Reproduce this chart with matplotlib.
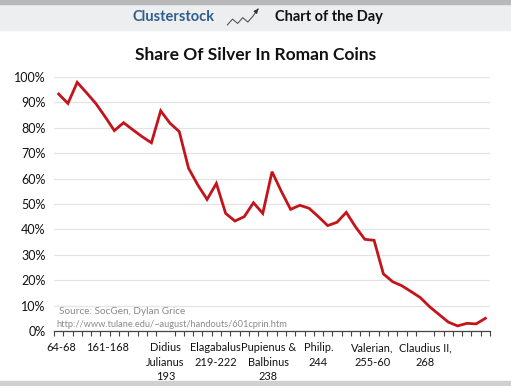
import matplotlib.pyplot as plt
from matplotlib.patches import Rectangle
from matplotlib.ticker import FixedLocator, FuncFormatter

plt.rcParams['font.family'] = ['Lato', 'DejaVu Sans']

# share of silver, one value per category (reign)
silver = [93.3, 89.6, 97.9, 93.8, 89.6, 84.4, 78.9, 82.0, 79.2, 76.5,
          74.1, 86.7, 81.8, 78.5, 64.1, 57.5, 51.8, 58.1, 46.3, 43.3,
          45.0, 50.5, 46.3, 62.7, 55.0, 47.9, 49.5, 48.3, 45.0, 41.5,
          42.8, 46.7, 41.0, 36.1, 35.7, 22.5, 19.4, 17.8, 15.5, 13.1,
          9.5, 6.5, 3.5, 2.0, 3.0, 2.8, 5.0]
label_pos = [0.3, 5.3, 11.5, 16.9, 22.6, 28.0, 33.8, 39.5]
label_txt = ['64-68', '161-168', 'Didius\nJulianus\n193', 'Elagabalus\n219-222',
             'Pupienus &\nBalbinus\n238', 'Philip.\n244', 'Valerian,\n255-60',
             'Claudius II,\n268']
y_ticks = [0, 10, 20, 30, 40, 50, 60, 70, 80, 90, 100]

fig = plt.figure(figsize=(5.11, 3.86), dpi=100)

# header band
fig.patches.append(Rectangle((0, 0.922), 1, 0.07, transform=fig.transFigure,
                             color='#eceef0', zorder=-5))
fig.patches.append(Rectangle((0, 0.99), 1, 0.01, transform=fig.transFigure,
                             color='#b8b8b8', zorder=-5))
fig.patches.append(Rectangle((0, 0), 1, 0.012, transform=fig.transFigure,
                             color='#d0d0d0', zorder=-5))
fig.text(0.42, 0.957, 'Clusterstock', color='#2f5d8c', fontsize=10.5,
         fontweight='bold', ha='right', va='center')
fig.text(0.538, 0.957, 'Chart of the Day', color='#111111', fontsize=10.5,
         fontweight='bold', ha='left', va='center')
icon = fig.add_axes([0.44, 0.928, 0.075, 0.06], zorder=5)
icon.patch.set_visible(False)
icon.plot([0, 1, 2, 3, 4, 5, 6], [0, 2, 0.5, 2.5, 1, 3, 5.5], color='#555555', lw=0.8)
icon.annotate('', xy=(6.4, 6.3), xytext=(5.6, 4.6),
              arrowprops=dict(arrowstyle='-|>', color='#333333', lw=0.8,
                              mutation_scale=6))
icon.set_xlim(-0.5, 7)
icon.set_ylim(-1, 7)
icon.axis('off')

fig.text(0.5, 0.857, 'Share Of Silver In Roman Coins', fontsize=12.5,
         fontweight='bold', ha='center', va='center', color='#111111')

ax = fig.add_axes([0.1057, 0.1425, 0.8533, 0.658])
x = list(range(len(silver)))
ax.plot(x, silver, color='#c4141b', lw=2.0, solid_joinstyle='miter', zorder=3)
ax.set_xlim(-0.5, len(silver) - 0.5)
ax.set_ylim(0, 100)

ax.set_yticks(y_ticks)
ax.yaxis.set_major_formatter(FuncFormatter(lambda v, p: '%d%%' % v))
ax.grid(axis='y', color='#e4e4e4', lw=0.9)
ax.tick_params(axis='y', length=0, labelsize=9, pad=6, labelcolor='#111111')

ax.xaxis.set_major_locator(FixedLocator(label_pos))
ax.set_xticklabels(label_txt, fontsize=7.9, color='#111111', linespacing=1.4)
ax.tick_params(axis='x', which='major', length=0, pad=8)
ax.xaxis.set_minor_locator(FixedLocator([i - 0.5 for i in range(len(silver) + 1)]))
ax.tick_params(axis='x', which='minor', length=3.5, width=0.8, color='#444444',
               direction='out')

for side in ['top', 'right', 'left']:
    ax.spines[side].set_visible(False)
ax.spines['bottom'].set_color('#444444')
ax.spines['bottom'].set_linewidth(0.9)

ax.text(0.0, 7.6, 'Source: SocGen, Dylan Grice', fontsize=7.2, color='#8a8a8a',
        ha='left', va='center')
ax.text(-0.2, 2.6, 'http://www.tulane.edu/~august/handouts/601cprin.htm',
        fontsize=6.7, color='#8a8a8a', ha='left', va='center')

fig.savefig('out.png', dpi=100)
